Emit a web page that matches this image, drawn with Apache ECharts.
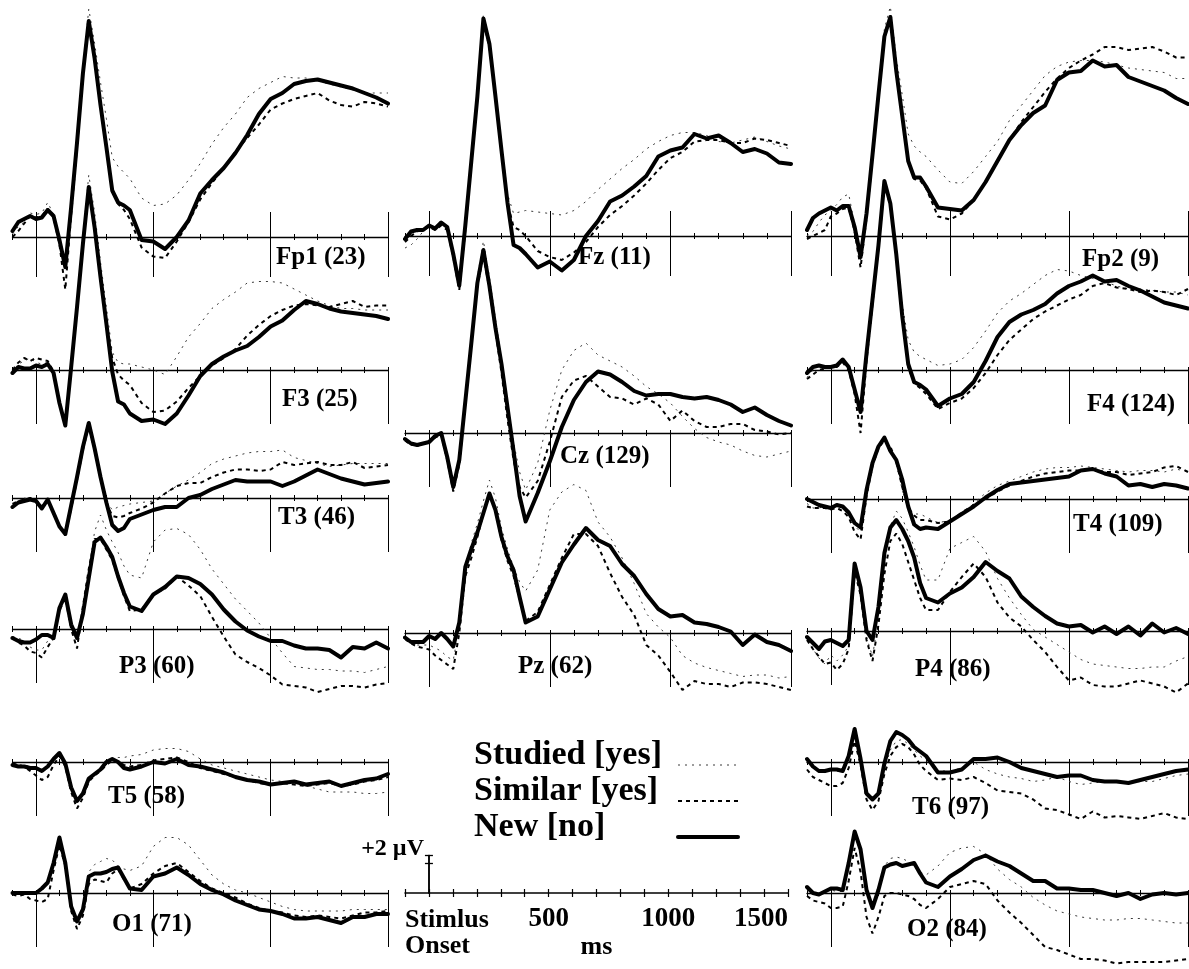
<!DOCTYPE html>
<html>
<head>
<meta charset="utf-8">
<title>ERP waveforms</title>
<script src="https://cdn.jsdelivr.net/npm/echarts@6/dist/echarts.min.js"></script>
<style>
html,body{margin:0;padding:0;background:#fff;}
#chart{width:1189px;height:969px;}
</style>
</head>
<body>
<div id="chart"></div>
<script>
// ---------------- DATA (ms, µV) ----------------
const times = [-100,-75,-50,-25,0,25,50,75,100,125,150,175,200,225,250,275,300,325,350,375,400,
  450,500,550,600,650,700,750,800,850,900,950,1000,1050,1100,1150,1200,1250,1300,1350,1400,1450,1500];

const fp1Studied = [0.2,0.7,1.0,1.6,1.5,1.6,2.3,1.5,-0.2,-2.3,2.0,6.5,11.3,15.2,12.9,10.3,7.9,5.3,4.7,4.3,3.9, 2.6,2.1,2.2,2.8,3.8,4.9,6.2,7.3,8.2,9.3,9.9,10.3,10.7,10.6,10.6,10.4,10.2,10.0,9.8,9.6,9.6,9.6];
const fp1Similar = [0.0,0.4,0.9,1.4,1.3,1.4,1.9,1.3,-0.5,-3.5,1.5,6.0,10.8,14.3,11.8,8.8,6.0,3.2,2.2,1.8,1.2, -0.7,-1.3,-1.4,-0.3,1.0,2.5,3.6,4.6,5.7,6.6,7.5,8.5,8.9,9.2,9.4,9.6,9.1,8.8,8.7,9.0,8.9,8.7];
const fp1New = [0.4,1.0,1.2,1.4,1.2,1.3,1.8,1.4,-0.2,-2.0,2.0,6.3,10.9,14.4,11.9,8.8,6.0,3.1,2.3,2.1,1.8, -0.2,-0.3,-0.8,0.0,1.1,2.9,3.8,4.6,5.6,6.8,8.2,9.2,9.6,10.2,10.4,10.5,10.3,10.1,9.9,9.6,9.3,8.9];

const f3Studied = [-0.3,0.4,0.6,0.8,0.5,0.4,0.5,-0.2,-2.0,-3.6,0.4,4.6,8.9,13.0,10.5,7.2,4.2,1.2,0.5,0.4,0.4, 0.2,0.0,-0.3,0.9,2.2,3.1,4.1,4.7,5.2,5.8,5.9,5.9,5.8,5.4,5.0,4.6,4.3,4.1,4.1,4.0,4.0,4.0];
const f3Similar = [0.0,0.5,0.8,0.6,0.8,0.7,0.6,-0.1,-2.2,-3.7,0.2,4.2,8.4,12.0,9.4,6.2,3.2,0.8,-0.3,-0.7,-1.0, -2.2,-2.8,-2.7,-2.1,-1.2,-0.4,0.3,0.8,1.4,2.3,3.0,3.6,4.0,4.3,4.4,4.3,4.2,4.4,4.6,4.2,4.3,4.3];
const f3New = [-0.2,0.2,0.1,0.1,0.3,0.2,0.4,-0.2,-2.2,-3.7,0.2,4.2,8.4,12.2,9.5,6.2,3.1,-0.1,-2.1,-2.3,-2.9, -3.4,-3.3,-3.6,-2.9,-1.7,-0.4,0.4,0.9,1.3,1.6,2.2,2.9,3.3,4.0,4.6,4.4,4.1,3.9,3.8,3.7,3.6,3.4];

const t3Studied = [-0.5,-0.2,0.0,-0.1,-0.1,-0.5,-0.1,-0.9,-1.8,-2.3,-0.5,1.3,3.3,5.0,3.3,1.4,-0.2,-0.8,-0.6,-0.5,-0.4, -0.3,-0.2,0.3,0.8,1.2,1.7,2.3,2.6,2.8,3.0,3.1,3.1,3.2,2.7,2.5,2.3,2.1,2.2,2.3,2.3,2.3,2.3];
const t3Similar = [-0.4,-0.2,-0.1,0.0,-0.1,-0.6,-0.2,-1.0,-1.9,-2.5,-0.7,1.2,3.2,4.8,3.2,1.3,-0.3,-1.2,-1.3,-1.2,-1.0, -0.7,-0.3,0.3,0.8,1.0,1.0,1.4,1.7,1.9,1.9,1.8,1.9,2.4,2.2,2.3,2.4,2.2,2.2,2.4,2.0,2.1,2.2];
const t3New = [-0.6,-0.3,-0.2,-0.1,-0.2,-0.7,-0.1,-1.0,-1.9,-2.4,-0.5,1.4,3.4,5.0,3.3,1.4,-0.3,-1.8,-2.2,-2.0,-1.4, -1.1,-0.8,-0.6,-0.6,0.0,0.2,0.6,0.9,1.2,1.1,1.1,1.1,0.8,1.1,1.5,1.9,1.6,1.3,1.1,0.9,1.0,1.1];

const p3Studied = [-0.5,-0.6,-0.8,-1.2,-1.4,-1.4,-0.8,-0.4,1.2,2.1,0.2,-0.6,1.4,4.0,6.5,7.6,6.6,5.8,5.1,4.2,3.6, 3.4,5.8,6.6,6.7,6.3,5.3,4.0,3.0,2.0,1.2,0.4,-0.6,-1.6,-2.5,-2.6,-2.7,-2.7,-2.8,-2.8,-2.9,-2.7,-2.5];
const p3Similar = [-0.6,-0.9,-1.1,-1.5,-1.6,-1.9,-1.2,-0.6,1.2,2.1,0.0,-1.3,1.5,4.0,6.0,6.0,5.3,4.6,3.4,2.2,1.2, 1.3,2.3,2.7,3.5,2.9,2.2,0.8,-0.5,-1.7,-2.2,-2.6,-3.1,-3.7,-3.8,-3.9,-4.2,-4.0,-3.8,-3.8,-3.9,-3.7,-3.6];
const p3New = [-0.6,-0.8,-0.9,-0.9,-0.7,-0.4,-0.4,-0.6,1.4,2.3,0.3,-0.6,1.0,3.4,5.8,6.1,5.5,4.8,3.5,2.4,1.5, 1.2,2.3,2.8,3.5,3.4,3.0,2.3,1.3,0.5,-0.1,-0.5,-0.8,-0.8,-1.1,-1.3,-1.3,-1.4,-1.9,-1.2,-1.3,-0.9,-1.3];

const t5Studied = [-0.2,-0.2,-0.2,-0.3,-0.4,-0.5,-0.3,0.2,0.6,-0.1,-1.7,-2.6,-2.2,-1.2,-0.8,-0.5,0.0,0.2,0.3,0.3,0.4, 0.5,0.8,0.9,0.9,0.7,0.2,-0.2,-0.4,-0.6,-0.8,-1.0,-1.2,-1.3,-1.4,-1.6,-1.8,-2.0,-2.0,-2.0,-2.1,-2.1,-2.0];
const t5Similar = [-0.1,-0.2,-0.3,-0.6,-0.9,-1.2,-1.0,-0.2,0.4,-0.3,-2.0,-3.1,-2.4,-1.3,-0.9,-0.6,-0.2,0.1,0.0,-0.2,-0.3, -0.2,0.1,0.2,0.3,0.0,-0.4,-0.6,-0.8,-1.0,-1.2,-1.4,-1.5,-1.4,-1.5,-1.6,-1.5,-1.4,-1.6,-1.5,-1.3,-1.2,-1.0];
const t5New = [-0.2,-0.3,-0.3,-0.4,-0.4,-0.6,-0.3,0.2,0.6,-0.1,-1.7,-2.6,-2.1,-1.1,-0.8,-0.5,0.0,0.2,0.0,-0.4,-0.5, -0.3,0.0,-0.1,0.2,-0.2,-0.3,-0.5,-0.7,-1.0,-1.2,-1.3,-1.5,-1.4,-1.3,-1.5,-1.4,-1.3,-1.6,-1.4,-1.2,-1.1,-0.8];

const o1Studied = [0.1,0.0,0.0,-0.1,0.0,0.2,0.6,2.0,3.5,2.1,-0.8,-1.8,-0.9,1.4,1.9,2.1,2.3,2.2,1.8,1.6,1.5, 1.8,3.1,3.7,3.7,3.2,2.2,1.2,0.6,0.2,0.0,-0.3,-0.6,-0.9,-1.1,-1.2,-1.2,-1.2,-1.2,-1.1,-1.1,-1.1,-1.1];
const o1Similar = [-0.1,-0.2,-0.1,-0.4,-0.5,-0.6,-0.4,1.5,3.2,1.8,-1.2,-2.4,-1.5,0.6,0.9,0.8,0.7,1.3,1.6,0.9,0.3, 0.6,1.3,1.8,2.0,1.4,0.8,0.3,0.0,-0.3,-0.7,-1.0,-1.2,-1.3,-1.5,-1.6,-1.5,-1.6,-1.7,-1.5,-1.3,-1.3,-1.2];
const o1New = [0.0,0.0,0.0,0.0,0.0,0.3,0.7,2.0,3.7,2.0,-0.9,-1.9,-1.1,1.1,1.3,1.3,1.4,1.6,1.7,1.0,0.3, 0.2,1.1,1.3,1.7,1.2,0.6,0.2,-0.1,-0.5,-0.8,-1.1,-1.2,-1.4,-1.7,-1.7,-1.6,-1.8,-2.0,-1.6,-1.6,-1.4,-1.4];

const fzStudied = [-0.8,-0.6,-0.2,0.3,0.6,0.6,0.9,0.6,-1.2,-3.4,0.6,5.0,9.4,14.8,13.0,9.6,6.2,2.8,1.5,1.6,1.7, 1.6,1.5,1.4,1.7,2.3,3.1,3.8,4.5,5.1,5.8,6.3,6.7,6.9,6.9,6.7,6.3,6.2,6.4,6.6,6.3,6.0,5.8];
const fzSimilar = [-0.4,0.0,0.3,0.5,0.6,0.4,0.7,0.4,-1.4,-3.6,0.4,4.8,9.2,14.3,12.6,9.2,5.6,2.2,0.6,0.4,0.0, -1.0,-1.4,-1.6,-1.1,-0.4,0.6,1.4,2.0,2.7,3.5,4.4,5.2,5.6,6.3,6.4,6.4,6.2,6.2,6.5,6.4,6.2,6.0];
const fzNew = [-0.2,0.3,0.4,0.4,0.7,0.5,0.9,0.6,-1.2,-3.3,0.7,5.0,9.3,14.5,12.8,9.3,5.7,2.2,-0.6,-0.8,-1.2, -2.1,-1.7,-2.3,-1.6,0.0,1.0,2.3,2.7,3.3,4.0,5.3,5.7,5.9,6.8,6.5,6.7,6.2,5.6,5.8,5.5,4.9,4.8];

const czStudied = [-0.5,-0.8,-0.9,-0.8,-0.6,-0.3,-0.2,-1.8,-3.8,-2.2,2.0,6.2,10.4,12.8,10.4,7.6,4.9,2.0,-0.6,-2.6,-3.8, -2.0,1.5,4.2,5.5,6.0,5.2,4.8,4.4,3.8,3.1,2.6,2.0,1.1,0.3,-0.3,-0.6,-0.8,-1.2,-1.5,-1.6,-1.4,-1.2];
const czSimilar = [-0.5,-0.8,-0.8,-0.7,-0.6,-0.3,-0.1,-1.8,-3.9,-2.1,2.0,6.0,9.8,11.8,9.6,6.8,4.0,0.9,-1.8,-3.6,-4.3, -3.2,-0.6,2.4,3.5,3.8,3.1,2.4,2.3,1.9,2.3,1.9,0.8,1.5,0.8,0.4,0.4,0.6,0.6,0.2,0.1,-0.1,0.0];
const czNew = [-0.4,-0.7,-0.8,-0.7,-0.6,-0.2,0.0,-1.6,-3.6,-1.8,2.1,6.0,10.0,12.2,9.8,7.0,4.6,1.7,-1.2,-4.2,-5.9, -4.0,-1.9,0.4,2.2,3.4,4.1,3.9,3.4,2.8,2.5,2.6,2.6,2.4,2.3,2.4,2.2,1.9,1.4,1.7,1.2,0.8,0.5];

const pzStudied = [-0.4,-0.7,-0.8,-0.8,-0.8,-1.0,-1.2,-1.6,-1.8,0.4,4.4,6.0,7.3,8.8,10.2,9.0,7.0,5.6,4.4,3.4,2.8, 4.2,8.2,9.4,9.9,9.5,7.4,6.4,5.0,3.3,1.3,0.4,-0.3,-1.5,-2.0,-2.3,-2.5,-2.7,-2.9,-2.8,-2.8,-3.0,-2.9];
const pzSimilar = [-0.4,-0.7,-0.9,-1.0,-1.1,-1.5,-1.8,-2.1,-2.4,0.0,3.8,5.0,6.4,8.0,9.2,8.2,6.2,4.8,3.8,2.3,0.8, 1.4,3.2,5.0,6.6,6.6,5.8,4.0,2.4,1.2,-0.8,-1.5,-2.6,-3.8,-3.2,-3.4,-3.4,-3.6,-3.3,-3.3,-3.4,-3.6,-3.8];
const pzNew = [-0.3,-0.6,-0.6,-0.6,-0.2,-0.4,0.0,-0.4,-0.9,0.7,4.4,5.6,6.7,8.0,9.3,8.2,6.4,5.1,4.2,2.4,0.7, 1.1,2.9,4.7,5.9,7.0,6.2,5.8,4.6,3.8,2.6,1.6,1.1,1.2,0.7,0.6,0.4,0.1,-0.8,-0.1,-0.6,-0.8,-1.2];

const fp2Studied = [0.0,0.3,0.9,1.4,1.7,2.1,2.6,2.8,0.8,-1.6,1.4,5.6,9.6,13.8,15.3,11.9,9.4,6.8,6.0,5.6,5.3, 4.4,3.6,3.5,4.3,5.3,6.3,7.7,8.7,9.7,10.7,11.3,11.6,11.7,11.7,11.6,11.4,11.2,11.1,11.0,10.9,10.5,10.5];
const fp2Similar = [-0.2,0.0,0.2,0.4,1.3,1.5,1.8,1.9,0.3,-2.1,1.2,5.2,9.2,13.2,14.5,11.0,8.0,5.0,3.8,3.7,3.2, 1.3,1.1,1.5,2.4,3.6,5.0,6.4,7.6,8.6,9.6,10.5,11.2,11.7,12.1,12.6,12.6,12.4,12.5,12.6,12.3,11.9,11.9];
const fp2New = [0.4,1.2,1.5,1.7,1.9,1.7,2.0,2.0,0.6,-1.4,1.5,5.4,9.4,13.3,14.6,11.0,8.0,5.0,3.9,3.9,3.3, 1.9,1.8,1.7,2.4,3.6,5.0,6.4,7.4,8.2,8.7,10.4,10.9,11.0,11.7,11.3,11.4,10.6,10.3,10.0,9.7,9.2,8.8];

const f4Studied = [-0.5,0.0,0.3,0.3,0.3,0.3,0.6,0.2,-1.2,-2.8,1.2,4.8,8.4,12.7,11.3,8.0,4.4,2.0,1.2,0.9,0.7, 0.3,0.4,0.7,1.5,2.6,3.8,4.6,5.1,5.7,6.3,6.7,6.6,6.3,6.1,5.9,5.6,5.4,5.4,5.3,5.2,5.2,5.0];
const f4Similar = [-0.6,-0.3,0.0,0.1,0.2,0.2,0.5,0.0,-1.6,-4.2,0.6,4.4,8.1,12.3,11.0,7.6,3.4,0.2,-0.9,-1.2,-1.6, -2.6,-2.2,-1.9,-1.2,-0.2,1.0,2.0,2.7,3.4,3.9,4.3,4.7,5.0,5.6,5.8,5.5,5.4,5.2,5.3,5.2,5.0,5.4];
const f4New = [-0.2,0.2,0.3,0.2,0.2,0.3,0.7,0.2,-1.3,-2.8,1.1,4.7,8.3,12.6,11.1,7.7,3.6,0.4,-0.8,-1.0,-1.3, -2.4,-1.9,-1.6,-0.8,0.6,2.2,3.2,3.7,4.0,4.4,5.1,5.6,5.9,6.3,5.9,6.0,5.6,5.3,4.9,4.5,4.3,4.1];

const t4Studied = [-0.3,-0.6,-0.6,-0.5,-0.6,-0.5,-0.6,-1.0,-1.8,-2.2,0.4,2.4,3.6,4.1,3.4,2.4,0.6,-0.6,-1.0,-1.0,-1.2, -1.6,-1.4,-1.0,-0.3,0.4,0.9,1.2,1.5,1.8,2.0,2.1,2.1,2.2,2.1,2.0,1.9,1.8,1.9,1.9,1.8,2.0,1.8];
const t4Similar = [-0.5,-0.6,-0.6,-0.6,-0.7,-0.6,-0.8,-1.2,-2.2,-2.7,0.2,2.2,3.4,3.9,3.5,2.5,0.8,-0.6,-1.1,-1.4,-1.4, -1.6,-1.5,-0.9,-0.4,0.0,0.5,0.9,1.2,1.5,1.7,1.8,1.9,1.9,2.0,1.8,1.8,1.6,1.7,1.8,2.1,2.2,1.8];
const t4New = [0.0,-0.2,-0.4,-0.5,-0.6,-0.4,-0.5,-0.9,-1.6,-1.9,0.6,2.4,3.5,4.1,3.2,2.6,1.3,-0.5,-1.7,-2.0,-1.9, -2.0,-1.5,-1.0,-0.5,0.1,0.6,1.0,1.1,1.2,1.3,1.4,1.5,1.9,2.0,1.7,1.5,0.9,1.0,0.8,1.0,0.9,0.7];

const p4Studied = [-0.6,-1.2,-1.8,-2.2,-1.6,-2.0,-1.6,-1.0,4.2,2.6,-0.4,-1.7,0.8,4.6,7.0,8.0,7.5,6.6,5.6,4.4,3.4, 3.4,5.5,5.9,6.3,5.3,3.5,2.2,1.1,0.1,-0.4,-0.9,-1.4,-1.9,-2.2,-2.3,-2.4,-2.5,-2.5,-2.4,-2.4,-2.0,-1.7];
const p4Similar = [-0.6,-1.2,-1.7,-2.2,-2.1,-2.6,-2.2,-1.2,4.0,2.4,-0.6,-2.0,0.4,3.8,6.0,6.5,5.8,4.6,3.4,2.2,1.4, 1.4,2.6,3.6,4.5,3.6,1.9,0.9,0.3,-0.6,-1.4,-2.4,-3.3,-3.1,-3.6,-3.7,-3.7,-3.5,-3.3,-3.5,-3.7,-4.1,-3.5];
const p4New = [-0.4,-0.8,-1.2,-0.7,-0.6,-0.8,-1.0,-0.6,4.5,2.9,0.0,-0.6,1.6,5.2,6.9,7.4,6.8,6.0,4.9,3.2,2.2, 1.9,2.5,2.9,3.6,4.6,4.0,3.5,2.3,1.6,1.0,0.5,0.3,0.4,-0.1,0.3,-0.2,0.3,-0.3,0.5,-0.1,0.2,-0.2];

const t6Studied = [0.0,-0.4,-0.7,-0.7,-0.5,-0.6,-0.7,0.3,2.0,0.1,-2.1,-2.6,-2.2,-0.5,0.8,1.4,1.5,1.2,0.8,0.4,0.1, -0.6,-0.6,-0.4,0.0,-0.5,-0.8,-1.0,-1.1,-1.3,-1.2,-1.0,-1.3,-1.5,-1.4,-1.3,-1.3,-1.4,-1.3,-1.3,-1.1,-0.9,-0.8];
const t6Similar = [-0.5,-1.0,-1.2,-1.4,-1.6,-1.6,-1.4,-0.4,1.4,-0.2,-2.5,-3.2,-2.6,-0.8,0.4,1.0,1.2,1.0,0.5,-0.2,-0.6, -1.2,-1.1,-1.2,-1.0,-1.4,-1.9,-2.0,-2.1,-2.5,-3.1,-3.2,-3.5,-3.8,-3.3,-3.7,-3.6,-3.7,-3.8,-3.6,-3.4,-3.7,-3.8];
const t6New = [0.2,-0.3,-0.6,-0.6,-0.5,-0.5,-0.6,0.4,2.2,0.2,-2.1,-2.5,-2.1,-0.1,1.4,2.0,1.8,1.5,1.0,0.7,0.4, -0.7,-0.7,-0.5,0.2,0.2,0.3,0.0,-0.4,-0.6,-0.8,-1.0,-0.9,-0.9,-1.2,-1.3,-1.3,-1.4,-1.2,-1.0,-0.8,-0.6,-0.5];

const o2Studied = [0.2,0.0,-0.1,0.1,0.2,0.1,0.1,1.6,3.8,2.8,0.4,-0.8,0.2,1.8,2.3,2.4,2.3,2.1,1.8,1.4,1.2, 1.8,2.7,3.0,3.1,2.6,1.6,0.9,0.4,-0.3,-0.8,-1.2,-1.4,-1.6,-1.7,-1.8,-1.8,-1.7,-1.7,-1.8,-1.9,-2.0,-2.0];
const o2Similar = [-0.2,-0.5,-0.6,-0.7,-1.0,-1.0,-0.9,0.8,3.0,1.4,-1.6,-2.7,-1.6,-0.2,0.0,0.0,-0.1,-0.2,-0.4,-0.8,-1.0, -0.4,0.4,0.6,0.8,0.6,-0.5,-1.3,-2.0,-2.8,-3.6,-3.8,-4.1,-4.4,-4.4,-4.5,-4.7,-4.6,-4.6,-4.6,-4.6,-4.5,-4.4];
const o2New = [0.4,0.0,-0.1,0.1,0.3,0.3,0.2,2.0,4.1,2.9,0.2,-1.0,0.2,1.7,1.9,2.0,1.8,1.9,2.0,1.3,0.7, 0.4,1.1,1.6,2.2,2.5,2.1,1.8,1.3,0.8,0.8,0.3,0.3,0.2,0.2,0.0,-0.2,0.0,-0.4,-0.1,0.0,-0.1,0.0];

const seriesNames = ['Studied [yes]', 'Similar [yes]', 'New [no]'];
const majorTickValues = [0, 500, 1000, 1500];
const minorTickValues = [-100,0,100,200,300,400,500,600,700,800,900,1000,1100,1200,1300,1400,1500];
const scaleLabelValues = [500, 1000, 1500];
const scaleLabels = ['500', '1000', '1500'];
const scaleBarTicks = [2, 2.5];

// ---------------- LAYOUT ----------------
const SERIF = '"Liberation Serif", "Times New Roman", serif';
const PX_PER_UV = 15;
const Y_MIN = -5, Y_MAX = 15.6;
const columns = [
  {left: 12.5, width: 375.5},
  {left: 405, width: 386},
  {left: 807, width: 381}
];
const panels = [
  {name:'Fp1 (23)', col:0, base:237, topRow:true, lx:276, ly:258, d:[fp1Studied, fp1Similar, fp1New]},
  {name:'F3 (25)',  col:0, base:370, lx:282, ly:400, d:[f3Studied, f3Similar, f3New]},
  {name:'T3 (46)',  col:0, base:498, lx:278, ly:518, d:[t3Studied, t3Similar, t3New]},
  {name:'P3 (60)',  col:0, base:629, lx:119, ly:667, d:[p3Studied, p3Similar, p3New]},
  {name:'T5 (58)',  col:0, base:762, lx:108, ly:797, d:[t5Studied, t5Similar, t5New]},
  {name:'O1 (71)',  col:0, base:893, lx:112, ly:925, d:[o1Studied, o1Similar, o1New]},
  {name:'Fz (11)',  col:1, base:236, topRow:true, lx:578, ly:258, d:[fzStudied, fzSimilar, fzNew]},
  {name:'Cz (129)', col:1, base:433, lx:560, ly:457, d:[czStudied, czSimilar, czNew]},
  {name:'Pz (62)',  col:1, base:633, lx:518, ly:667, d:[pzStudied, pzSimilar, pzNew]},
  {name:'Fp2 (9)',  col:2, base:236, topRow:true, lx:1082, ly:260, d:[fp2Studied, fp2Similar, fp2New]},
  {name:'F4 (124)', col:2, base:370, lx:1087, ly:405, d:[f4Studied, f4Similar, f4New]},
  {name:'T4 (109)', col:2, base:499, lx:1073, ly:525, d:[t4Studied, t4Similar, t4New]},
  {name:'P4 (86)',  col:2, base:631, lx:915, ly:670, d:[p4Studied, p4Similar, p4New]},
  {name:'T6 (97)',  col:2, base:762, lx:912, ly:808, d:[t6Studied, t6Similar, t6New]},
  {name:'O2 (84)',  col:2, base:893, lx:907, ly:930, d:[o2Studied, o2Similar, o2New]}
];
const lineStyles = [
  {color:'#3a3a3a', width:1, type:[2,5]},
  {color:'#000', width:2, type:[4,4]},
  {color:'#000', width:4, type:'solid', cap:'round', join:'round'}
];

panels.forEach(p => p.d.forEach(a => {
  if (a.length !== times.length) throw new Error(p.name + ' has ' + a.length + ' values');
}));

function xAxisDef(g, yIdx, pos, showLine, ticks, len) {
  return {
    gridIndex: g, type: 'value', min: -100, max: 1500, position: pos,
    axisLine: {show: showLine, onZero: true, onZeroAxisIndex: yIdx, lineStyle: {color: '#000', width: 1.3}},
    axisTick: {show: true, customValues: ticks, length: len, inside: false, lineStyle: {color: '#000', width: 1}},
    axisLabel: {show: false}, splitLine: {show: false}
  };
}

const option = {
  animation: false, backgroundColor: '#fff',
  grid: [], xAxis: [], yAxis: [], series: [], graphic: [], legend: []
};

panels.forEach((p, g) => {
  const c = columns[p.col];
  option.grid.push({left: c.left, width: c.width, top: p.base - Y_MAX * PX_PER_UV, height: (Y_MAX - Y_MIN) * PX_PER_UV});
  const yIdx = option.yAxis.length;
  option.yAxis.push({gridIndex: g, type: 'value', min: Y_MIN, max: Y_MAX, show: false});
  const mainIdx = option.xAxis.length;
  option.xAxis.push(xAxisDef(g, yIdx, 'bottom', true, majorTickValues, p.topRow ? 40 : 54));
  option.xAxis.push(xAxisDef(g, yIdx, 'bottom', false, minorTickValues, 3));
  option.xAxis.push(xAxisDef(g, yIdx, 'top', false, minorTickValues, 3));
  if (p.topRow) option.xAxis.push(xAxisDef(g, yIdx, 'top', false, majorTickValues, 25));
  p.d.forEach((arr, k) => {
    option.series.push({
      type: 'line', name: seriesNames[k], xAxisIndex: mainIdx, yAxisIndex: yIdx,
      data: times.map((t, i) => [t, arr[i]]),
      symbol: 'none', showSymbol: false, clip: false, silent: true,
      lineStyle: lineStyles[k], itemStyle: {color: lineStyles[k].color}, z: 2 + k
    });
  });
  option.graphic.push({
    type: 'text', x: p.lx, y: p.ly, z: 1,
    style: {text: p.name, fontFamily: SERIF, fontWeight: 'bold', fontSize: 25, fill: '#000', align: 'left', verticalAlign: 'middle'}
  });
});

// scale bar
const sg = option.grid.length;
option.grid.push({left: 405, width: 383, top: 893 - 2.5 * PX_PER_UV, height: 2.5 * PX_PER_UV});
const scaleY = option.yAxis.length;
const scaleX = option.xAxis.length;
option.xAxis.push({
  gridIndex: sg, type: 'value', min: -100, max: 1500, position: 'bottom',
  axisLine: {show: true, onZero: true, onZeroAxisIndex: scaleY, lineStyle: {color: '#000', width: 1.5}},
  axisTick: {show: true, customValues: minorTickValues, length: 4, lineStyle: {color: '#000', width: 1.2}},
  axisLabel: {show: true, customValues: scaleLabelValues, formatter: v => scaleLabels[scaleLabelValues.indexOf(v)],
    margin: 13, color: '#000', fontFamily: SERIF, fontWeight: 'bold', fontSize: 27, alignMaxLabel: 'right'},
  name: 'ms', nameLocation: 'middle', nameGap: 40,
  nameTextStyle: {color: '#000', fontFamily: SERIF, fontWeight: 'bold', fontSize: 26},
  splitLine: {show: false}
});
option.xAxis.push({
  gridIndex: sg, type: 'value', min: -100, max: 1500, position: 'top',
  axisLine: {show: false, onZero: true, onZeroAxisIndex: scaleY},
  axisTick: {show: true, customValues: minorTickValues, length: 4, lineStyle: {color: '#000', width: 1.2}},
  axisLabel: {show: false}, splitLine: {show: false}
});
['left', 'right'].forEach(pos => option.yAxis.push({
  gridIndex: sg, type: 'value', min: 0, max: 2.5, position: pos,
  axisLine: {show: true, onZero: true, onZeroAxisIndex: scaleX, lineStyle: {color: '#000', width: 1.5}},
  axisTick: {show: true, customValues: scaleBarTicks, length: 4, lineStyle: {color: '#000', width: 1.3}},
  axisLabel: {show: false}, splitLine: {show: false}
}));
option.graphic.push({
  type: 'text', x: 424, y: 849,
  style: {text: '+2 µV', fontFamily: SERIF, fontWeight: 'bold', fontSize: 24, fill: '#000', align: 'right', verticalAlign: 'middle'}
});
option.graphic.push({
  type: 'text', x: 405, y: 907,
  style: {text: 'Stimlus\nOnset', fontFamily: SERIF, fontWeight: 'bold', fontSize: 26, lineHeight: 26, fill: '#000', align: 'left', verticalAlign: 'top'}
});

// legend
const legendTops = [738, 774, 810];
seriesNames.forEach((n, i) => option.legend.push({
  data: [n], top: legendTops[i], left: 474, orient: 'vertical', align: 'right', padding: 0,
  itemWidth: 60, itemHeight: 12, selectedMode: false,
  formatter: s => '{t|' + s + '}',
  textStyle: {rich: {t: {width: 199, align: 'left', fontFamily: SERIF, fontWeight: 'bold', fontSize: 34, lineHeight: 34, color: '#000', padding: [0, 0, 20, 0]}}},
  lineStyle: {width: 'inherit'},
  itemStyle: {opacity: 0}
}));

const chart = echarts.init(document.getElementById('chart'), null, {renderer: 'canvas'});
chart.setOption(option);
</script>
</body>
</html>
